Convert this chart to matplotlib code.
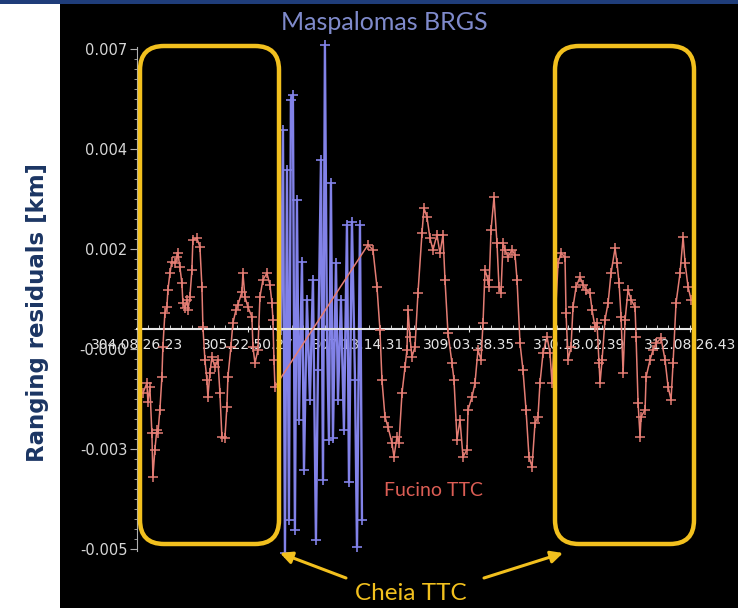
import matplotlib
matplotlib.use("Agg")
import numpy as np
import matplotlib.pyplot as plt
from matplotlib.patches import FancyBboxPatch, Rectangle
from matplotlib.ticker import AutoMinorLocator

# Fucino TTC ranging residuals: time (day of year), residual (m)
fucino_day = [
    304.437, 304.495, 304.509, 304.538, 304.567, 304.582, 304.610, 304.639, 304.654, 304.683,
    304.712, 304.726, 304.755, 304.784, 304.799, 304.828, 304.856, 304.900, 304.929, 304.943,
    304.972, 305.001, 305.016, 305.045, 305.074, 305.088, 305.117, 305.146, 305.160, 305.218,
    305.262, 305.291, 305.305, 305.334, 305.363, 305.377, 305.406, 305.435, 305.479, 305.522,
    305.551, 305.580, 305.623, 305.652, 305.667, 305.710, 305.739, 305.783, 305.812, 305.869,
    305.884, 305.913, 305.956, 306.014, 306.029, 306.058, 306.101, 306.130, 306.173, 306.231,
    306.275, 306.304, 306.318, 306.333, 306.347,
    307.693, 307.765, 307.823, 307.866, 307.895, 307.939, 307.982, 308.040, 308.069, 308.112,
    308.141, 308.185, 308.228, 308.257, 308.272, 308.300, 308.329, 308.373, 308.416, 308.474,
    308.503, 308.546, 308.590, 308.633, 308.691, 308.734, 308.778, 308.807, 308.850, 308.908,
    308.937, 308.981, 309.024, 309.067, 309.125, 309.140, 309.198, 309.241, 309.284, 309.328,
    309.357, 309.386, 309.429, 309.444, 309.473, 309.516, 309.559, 309.588, 309.617, 309.646,
    309.675, 309.719, 309.776, 309.820, 309.849, 309.892, 309.935, 309.979, 310.022, 310.066,
    310.109, 310.152, 310.181, 310.225, 310.283, 310.326, 310.355, 310.442, 310.485, 310.543,
    310.558, 310.587, 310.630, 310.659, 310.703, 310.760, 310.804, 310.847, 310.905, 310.934,
    310.977, 311.006, 311.035, 311.050, 311.079, 311.122, 311.166, 311.209, 311.267, 311.296,
    311.325, 311.354, 311.383, 311.412, 311.455, 311.499, 311.556, 311.571, 311.600, 311.629,
    311.643, 311.701, 311.716, 311.773, 311.817, 311.860, 311.932, 311.990, 312.034, 312.077,
    312.106, 312.149, 312.207, 312.251, 312.280, 312.323, 312.367,
]
fucino_res = [
    -1.06, -0.82, -1.27, -0.91, -2.02, -3.07, -2.42, -1.94, -2.02, -1.46,
    -0.67, 0.05, 0.86, 1.01, 1.42, 1.82, 2.09, 2.06, 2.21, 2.30,
    1.97, 1.58, 1.10, 0.98, 1.18, 0.94, 1.25, 1.90, 2.62, 2.66,
    2.45, 1.49, 0.53, -0.26, -0.74, -1.15, -0.58, -0.19, -0.43, -0.26,
    -1.06, -2.11, -2.14, -1.39, -0.67, 0.05, 0.62, 0.94, 1.06, 1.37,
    1.82, 1.25, 1.01, 0.77, 0.05, -0.34, -0.02, 1.25, 1.66, 1.82,
    1.54, 1.10, 0.70, -0.26, -0.91,
    2.50, 2.38, 1.49, 0.46, -0.74, -1.63, -1.87, -2.26, -2.59, -2.11,
    -2.26, -1.06, -0.43, -0.02, 0.94, 0.29, -0.19, 0.05, 1.34, 2.78,
    3.38, 3.17, 2.66, 2.38, 2.74, 2.30, 2.74, 1.66, 0.38, -0.34,
    -0.74, -2.18, -1.70, -2.59, -2.42, -1.46, -1.15, -0.82, -0.02, -0.26,
    0.62, 1.90, 1.66, 1.49, 2.86, 3.65, 2.54, 1.49, 1.34, 2.54,
    2.38, 2.21, 2.38, 2.26, 1.66, 0.14, -0.50, -1.46, -2.59, -2.83,
    -1.78, -1.63, -0.82, -0.10, 0.29, -0.10, -0.82, 2.06, 2.30, 2.21,
    0.86, -0.26, 0.05, 1.01, 1.49, 1.73, 1.54, 1.42, 1.34, 0.94,
    0.53, 0.62, -0.34, -0.82, -0.26, 0.70, 1.10, 1.82, 2.42, 2.06,
    1.58, 0.77, -0.58, 0.70, 1.42, 1.18, 1.01, 0.29, -1.30, -2.11,
    -1.63, -1.46, -0.67, -0.26, -0.02, 0.14, 0.26, -0.26, -0.91, -1.22,
    -0.34, 1.10, 1.82, 2.69, 2.06, 1.49, 1.18,
]

# Maspalomas BRGS ranging residuals
brgs_day = [
    306.434, 306.463, 306.492, 306.521, 306.549, 306.578, 306.607, 306.636, 306.665, 306.694,
    306.738, 306.767, 306.810, 306.853, 306.897, 306.940, 306.969, 307.013, 307.042, 307.070,
    307.099, 307.128, 307.157, 307.186, 307.230, 307.259, 307.302, 307.345, 307.389, 307.418,
    307.461, 307.505, 307.534, 307.577, 307.606,
]
brgs_res = [
    0.46, 5.26, -4.90, 4.30, -4.10, 5.98, 6.10, -4.34, 3.58, -1.70,
    2.09, -2.90, 1.18, -1.22, 1.66, -4.58, -0.50, 4.54, -3.14, 7.30,
    0.46, -2.18, 3.98, -2.14, 2.06, -1.22, 1.18, -1.94, 2.98, -3.19,
    3.05, -0.74, -4.75, 2.98, -4.10,
]

x_ticks = [304.3517, 305.9517, 307.5518, 309.1518, 310.7518, 312.3518]
x_labels = ["304.08.26.23", "305.22.50.27", "307.13.14.31",
            "309.03.38.35", "310.18.02.39", "312.08.26.43"]
y_ticks = [-0.0048, -0.0024, 0.0, 0.0024, 0.0048, 0.0072]
y_labels = ["-0.005", "-0.003", "-0.000", "0.002", "0.004", "0.007"]

W, H = 738, 608
fig = plt.figure(figsize=(W / 100, H / 100), dpi=100, facecolor="white")

# black slide panel and top bar (behind the axes)
fig.patches.append(Rectangle((60 / W, 0), 1, 604 / H, transform=fig.transFigure,
                             facecolor="black", edgecolor="none", zorder=-10))
fig.patches.append(Rectangle((0, 604 / H), 1, 4 / H, transform=fig.transFigure,
                             facecolor="#1f3d7a", edgecolor="none", zorder=-10))

ax = fig.add_axes([137 / W, 1 - 551 / H, 555 / W, 504 / H])
ax.set_facecolor("none")

# spine position first: it resets the ticks
for side in ["top", "right"]:
    ax.spines[side].set_visible(False)
ax.spines["bottom"].set_position(("data", 0.00048))
ax.spines["bottom"].set_color("#e8e8e8")
ax.spines["bottom"].set_linewidth(1.5)
ax.spines["left"].set_color("#b0b0b0")

red = "#e47d74"
blue = "#8282e8"

ax.plot(brgs_day, np.array(brgs_res) / 1000, color=blue, lw=1.7, marker="+",
        ms=7, mew=1.2, zorder=2, clip_on=False)
ax.plot(fucino_day, np.array(fucino_res) / 1000, color=red, lw=1.1, marker="+",
        ms=6.5, mew=1.1, zorder=3, clip_on=False)

ax.set_xlim(304.3517, 312.38)
ax.set_ylim(-0.00485, 0.00725)

tick_font = ["Liberation Sans Narrow", "DejaVu Sans"]
ax.set_xticks(x_ticks)
ax.set_xticklabels(x_labels, family=tick_font, fontsize=10, color="#e6e6e6")
ax.set_yticks(y_ticks)
ax.set_yticklabels(y_labels, family=tick_font, fontsize=10.5, color="#d6d6d6")
ax.xaxis.set_minor_locator(AutoMinorLocator(10))
ax.yaxis.set_minor_locator(AutoMinorLocator(10))

ax.tick_params(axis="x", which="major", direction="inout", length=5,
               color="#e8e8e8", labelcolor="#e6e6e6", pad=4)
ax.tick_params(axis="x", which="minor", direction="in", length=3, color="#e8e8e8")
ax.tick_params(axis="y", which="major", direction="out", length=5,
               color="#b0b0b0", labelcolor="#d6d6d6", pad=2)
ax.tick_params(axis="y", which="minor", direction="out", length=2, color="#b0b0b0")

# overlay in pixel units for the slide annotations
ov = fig.add_axes([0, 0, 1, 1], zorder=5)
ov.set_xlim(0, W)
ov.set_ylim(H, 0)
ov.axis("off")
ov.patch.set_visible(False)

gold = "#f2c01e"
for x0 in [140, 555]:
    ov.add_patch(FancyBboxPatch((x0, 46), 139, 498,
                                boxstyle="round,pad=0,rounding_size=24",
                                facecolor="none", edgecolor=gold, lw=3.2))

ov.text(384, 22, "Maspalomas BRGS", color="#7f8acb", fontsize=18,
        family="Lato", ha="center", va="center")
ov.text(433, 490, "Fucino TTC", color="#dc5e55", fontsize=14,
        family="Lato", ha="center", va="center")
ov.text(411, 593, "Cheia TTC", color=gold, fontsize=17.5,
        family="Lato", ha="center", va="center")

arrow = dict(arrowstyle="-|>", color=gold, lw=2.2, mutation_scale=18,
             shrinkA=0, shrinkB=0)
ov.annotate("", xy=(280, 553), xytext=(346, 578), arrowprops=arrow)
ov.annotate("", xy=(563, 553), xytext=(484, 578), arrowprops=arrow)

fig.text(38 / W, 1 - 313 / H, "Ranging residuals [km]", rotation=90,
         ha="center", va="center", fontsize=16.5, fontweight="bold",
         family="DejaVu Sans", color="#1b3563")

fig.savefig("out.png", dpi=100, facecolor=fig.get_facecolor())
